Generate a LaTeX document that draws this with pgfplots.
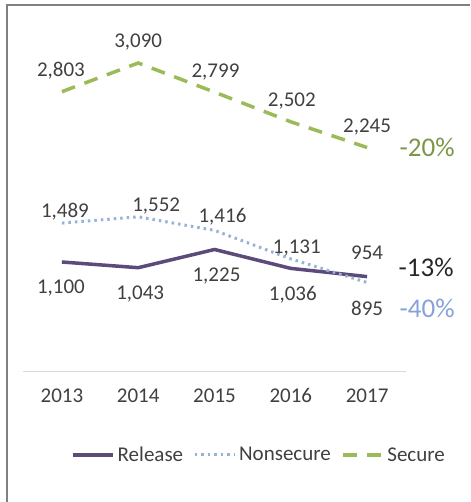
\documentclass[border=0pt]{standalone}
\usepackage{pgfplots}
\pgfplotsset{compat=1.18}
\usepackage{pgfplotstable}
\usepackage{fontspec}
\setmainfont{Carlito}

\definecolor{relcol}{HTML}{5B4A7A}
\definecolor{noncol}{HTML}{95B3D7}
\definecolor{seccol}{HTML}{9BBB59}
\definecolor{txtcol}{HTML}{404040}
\definecolor{axcol}{HTML}{D9D9D9}

% x y dx dy (label offsets in pt)
\pgfplotstableread{
x y dx dy
0 1100 -1 -32
1 1043 2 -32
2 1225 2 -32
3 1036 2 -32
4 954 0 17
}\release
\pgfplotstableread{
x y dx dy
0 1489 3 6
1 1552 18 5
2 1416 8 8
3 1131 6 5
4 895 0 -33
}\nonsecure
\pgfplotstableread{
x y dx dy
0 2803 -1 15
1 3090 0 15
2 2799 1 15
3 2502 1 15
4 2245 0 15
}\secure

\begin{document}
\begin{tikzpicture}[font=\fontsize{21}{25}\selectfont]
\begin{axis}[
    at={(23pt,130pt)}, anchor=south west,
    scale only axis, width=383pt, height=350pt,
    xmin=-0.51, xmax=4.51, ymin=0, ymax=3500,
    axis y line=none,
    axis x line*=bottom,
    x axis line style={axcol, line width=1pt, -},
    xtick={0,1,2,3,4},
    xticklabels={2013,2014,2015,2016,2017},
    major tick length=0pt,
    xticklabel style={text=txtcol, yshift=-13pt},
    clip=false,
    /pgf/number format/.cd, 1000 sep={,}, assume math mode=true,
    /pgfplots/.cd,
    point meta=y,
    nodes near coords,
    visualization depends on={\thisrow{dx} \as \dx},
    visualization depends on={\thisrow{dy} \as \dy},
    nodes near coords style={anchor=base, text=txtcol, xshift=\dx pt, yshift=\dy pt},
    legend columns=-1,
    legend style={draw=none, at={(0.615,-0.237)}, anchor=center,
        text=txtcol, nodes={inner sep=1pt},
        /tikz/every odd column/.append style={column sep=2pt},
        /tikz/every even column/.append style={column sep=9pt}},
    legend image code/.code={\draw[#1] (0pt,0pt) -- (40pt,0pt);},
]
\addplot[relcol, line width=3.5pt] table[x=x, y=y] {\release};
\addplot[noncol, line width=3pt, dash pattern=on 2.5pt off 4pt] table[x=x, y=y] {\nonsecure};
\addplot[seccol, line width=3.5pt, dash pattern=on 14pt off 10pt] table[x=x, y=y] {\secure};
\legend{Release, Nonsecure, Secure}
\node[anchor=west, text=seccol!80!black, font=\fontsize{27}{30}\selectfont, xshift=29pt] at (axis cs:4,2245) {-20\%};
\node[anchor=west, text=black!85, font=\fontsize{27}{30}\selectfont, xshift=28pt, yshift=9pt] at (axis cs:4,954) {-13\%};
\node[anchor=west, text=noncol!90!blue, font=\fontsize{27}{30}\selectfont, xshift=29pt, yshift=-26pt] at (axis cs:4,895) {-40\%};
\end{axis}
\draw[black!50, line width=2pt] (7pt,0pt) -- (7pt,497pt) -- (470pt,497pt);
\pgfresetboundingbox
\path[use as bounding box] (0,0) rectangle (470pt,502pt);
\end{tikzpicture}
\end{document}
